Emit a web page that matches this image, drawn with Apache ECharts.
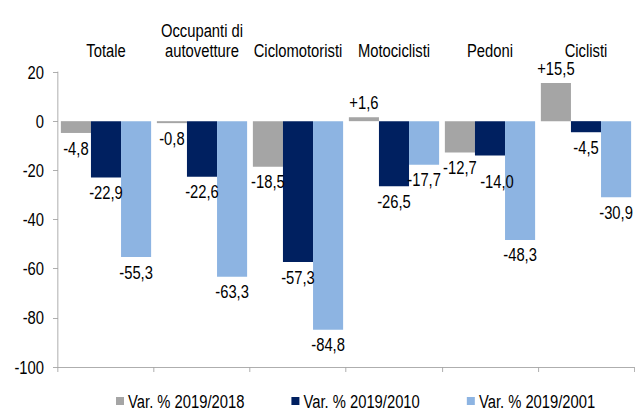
<!DOCTYPE html>
<html lang="it" style="height: 100%">

<head>
  <meta charset="utf-8">
</head>

<body style="height: 100%; margin: 0; overflow: hidden">
  <!-- il grafico originale usa un font stretto: disegno più largo e comprimo in orizzontale -->
  <div id="container" style="width: 774px; height: 410px; transform: scaleX(0.8204); transform-origin: 0 0"></div>

  <script type="text/javascript" src="https://cdn.jsdelivr.net/npm/echarts@6/dist/echarts.min.js"></script>
  <script type="text/javascript">
    var categories = ['Totale', 'Occupanti di\nautovetture', 'Ciclomotoristi', 'Motociclisti', 'Pedoni', 'Ciclisti'];
    var seriesNames = ['Var. % 2019/2018', 'Var. % 2019/2010', 'Var. % 2019/2001'];
    var var2018 = [-4.8, -0.8, -18.5, 1.6, -12.7, 15.5];
    var var2010 = [-22.9, -22.6, -57.3, -26.5, -14.0, -4.5];
    var var2001 = [-55.3, -63.3, -84.8, -17.7, -48.3, -30.9];
    var colors = ['#A5A5A5', '#002060', '#8DB4E2'];

    var font = '"Liberation Sans", Arial, sans-serif';
    var sx = 0.8204; // fattore di compressione orizzontale

    function fmt(v) {
      return (v > 0 ? '+' : '') + v.toFixed(1).replace('.', ',');
    }

    function makeSeries(name, values, color, idx) {
      return {
        name: name,
        type: 'bar',
        barGap: 0,
        barCategoryGap: '6%',
        itemStyle: { color: color },
        data: values.map(function (v, i) {
          var item = {
            value: v,
            label: { position: v >= 0 ? 'top' : 'bottom' }
          };
          // l'etichetta -14,0 nell'originale è spostata un po' in basso
          if (idx === 1 && i === 4) item.label.offset = [7 / sx, 11];
          return item;
        }),
        label: {
          show: true,
          distance: 6,
          color: '#000',
          fontSize: 18,
          fontFamily: font,
          formatter: function (p) { return fmt(p.value); }
        }
      };
    }

    var myChart = echarts.init(document.getElementById('container'), null, { renderer: 'svg' });
    myChart.setOption({
      animation: false,
      textStyle: { fontFamily: font },
      color: colors,
      grid: { left: 58 / sx, right: 1 / sx, top: 72, bottom: 43 },
      legend: {
        left: 116 / sx,
        top: 392,
        padding: 0,
        itemWidth: 8 / sx,
        itemHeight: 8,
        itemGap: 47 / sx,
        icon: 'rect',
        textStyle: { fontSize: 18, fontFamily: font, color: '#000' },
        data: seriesNames
      },
      xAxis: [
        {
          type: 'category',
          position: 'top',
          data: categories,
          axisLine: { show: false },
          axisTick: { show: false },
          axisLabel: {
            interval: 0,
            margin: 12,
            color: '#000',
            fontSize: 18,
            lineHeight: 20,
            fontFamily: font
          }
        },
        {
          type: 'category',
          data: categories,
          axisLine: { onZero: true, lineStyle: { color: '#A6A6A6', width: 1 } },
          axisTick: { show: true, length: 5, lineStyle: { color: '#A6A6A6' } },
          axisLabel: { show: false }
        }
      ],
      yAxis: {
        type: 'value',
        min: -100,
        max: 20,
        interval: 20,
        splitLine: { show: false },
        axisLine: { show: true, onZero: false, lineStyle: { color: '#A6A6A6' } },
        axisTick: { show: true, length: 5 / sx, lineStyle: { color: '#A6A6A6' } },
        axisLabel: { color: '#000', fontSize: 18, fontFamily: font, margin: 14 / sx }
      },
      series: [
        makeSeries(seriesNames[0], var2018, colors[0], 0),
        makeSeries(seriesNames[1], var2010, colors[1], 1),
        makeSeries(seriesNames[2], var2001, colors[2], 2)
      ]
    });
  </script>
</body>

</html>
